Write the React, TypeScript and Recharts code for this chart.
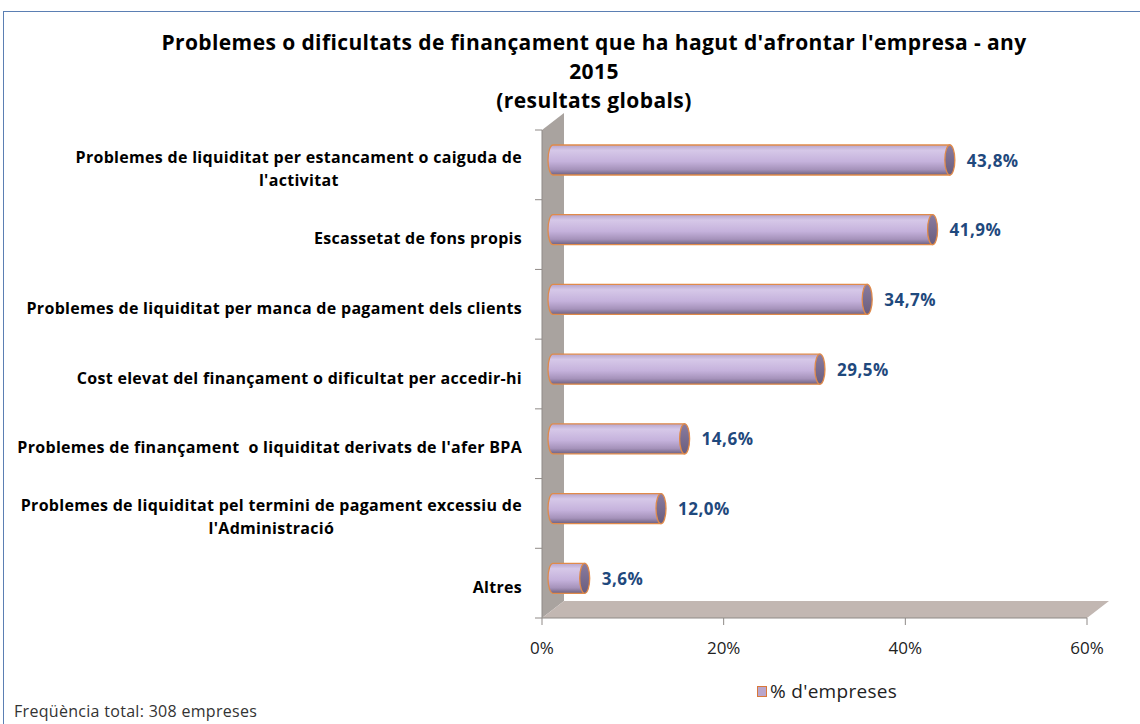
import { Bar, BarChart, LabelList, ReferenceArea, XAxis, YAxis } from "recharts";

const categories = [
  "Problemes de liquiditat per estancament o caiguda de\nl'activitat",
  "Escassetat de fons propis",
  "Problemes de liquiditat per manca de pagament dels clients",
  "Cost elevat del finançament o dificultat per accedir-hi",
  "Problemes de finançament  o liquiditat derivats de l'afer BPA",
  "Problemes de liquiditat pel termini de pagament excessiu de\nl'Administració",
  "Altres",
];
const shares = [43.8, 41.9, 34.7, 29.5, 14.6, 12.0, 3.6];
const xTicks = [0, 20, 40, 60];
const seriesName = "% d'empreses";

const data = categories.map((name, i) => ({ name, value: shares[i] }));

const FONT = "'Open Sans', 'Liberation Sans', sans-serif";
const DEPTH_X = 22;
const DEPTH_Y = 17;
const SHIFT_X = 11;
const SHIFT_Y = -5;

function Walls(props: any) {
  const { x, y, width, height } = props;
  const bottom = y + height;
  const n = categories.length;
  const ticks = Array.from({ length: n + 1 }, (_, i) => y + (i * height) / n);
  return (
    <g>
      <polygon
        points={`${x},${y} ${x + DEPTH_X},${y - DEPTH_Y} ${x + DEPTH_X},${bottom - DEPTH_Y} ${x},${bottom}`}
        fill="#a9a39f"
      />
      <polygon
        points={`${x},${bottom} ${x + DEPTH_X},${bottom - DEPTH_Y} ${x + width + DEPTH_X},${bottom - DEPTH_Y} ${x + width},${bottom}`}
        fill="#c2b7b2"
      />
      <line x1={x} y1={y} x2={x} y2={bottom} stroke="#8f8a87" strokeWidth={1} />
      {ticks.map((t, i) => (
        <line key={i} x1={x - 7} y1={t} x2={x} y2={t} stroke="#8f8a87" strokeWidth={1} />
      ))}
    </g>
  );
}

function Cylinder(props: any) {
  const { x, y, width, height } = props;
  const h = height;
  const top = y + SHIFT_Y;
  const rx = 5;
  const sx = x + SHIFT_X;
  const ex = x + width + SHIFT_X - 1;
  const ry = h / 2;
  return (
    <g>
      <path
        d={`M${sx},${top} A${rx},${ry} 0 0 0 ${sx},${top + h} L${ex},${top + h} L${ex},${top} Z`}
        fill="url(#cylBody)"
        stroke="#e08a4a"
        strokeWidth={1.3}
      />
      <ellipse cx={ex} cy={top + ry} rx={rx} ry={ry} fill="url(#cylCap)" stroke="#e08a4a" strokeWidth={1.3} />
    </g>
  );
}

function ValueLabel(props: any) {
  const { x, y, width, height, value } = props;
  return (
    <text
      x={x + width + SHIFT_X + 16}
      y={y + SHIFT_Y + height / 2}
      dominantBaseline="central"
      fill="#1f497d"
      fontFamily={FONT}
      fontWeight={700}
      fontSize={17}
      letterSpacing={0.5}
    >
      {value.toFixed(1).replace(".", ",")}%
    </text>
  );
}

function CategoryTick(props: any) {
  const { x, y, payload } = props;
  const lines = String(payload.value).split("\n");
  return (
    <foreignObject x={0} y={y - 40 + 4} width={x - 12} height={80}>
      <div
        style={{
          height: "80px",
          display: "flex",
          alignItems: "center",
          justifyContent: "flex-end",
          fontFamily: FONT,
          fontWeight: 700,
          fontSize: "16px",
          letterSpacing: "0.3px",
          lineHeight: "23px",
          color: "#000",
        }}
      >
        <div style={{ textAlign: "center", whiteSpace: "pre" }}>{lines.join("\n")}</div>
      </div>
    </foreignObject>
  );
}

export default function App() {
  return (
    <div style={{ position: "absolute", left: 0, top: 0, width: 1140, height: 724, background: "#fff", overflow: "hidden" }}>
      <div
        style={{
          position: "absolute",
          left: 3,
          top: 11,
          width: 1150,
          height: 730,
          border: "1px solid #5b7fb3",
          boxSizing: "border-box",
        }}
      />
      <div
        style={{
          position: "absolute",
          left: 0,
          top: 28,
          width: 1188,
          textAlign: "center",
          fontFamily: FONT,
          fontWeight: 700,
          fontSize: "21px",
          letterSpacing: "0.4px",
          lineHeight: "29px",
          color: "#000",
        }}
      >
        Problemes o dificultats de finançament que ha hagut d'afrontar l'empresa - any
        <br />
        2015
        <br />
        (resultats globals)
      </div>
      <BarChart
        width={1140}
        height={724}
        layout="vertical"
        data={data}
        margin={{ top: 130, right: 53, bottom: 76, left: 0 }}
        barSize={30}
      >
        <defs>
          <linearGradient id="cylBody" x1="0" y1="0" x2="0" y2="1">
            <stop offset="0%" stopColor="#b7a5cc" />
            <stop offset="18%" stopColor="#d6c8e8" />
            <stop offset="55%" stopColor="#c5b2dc" />
            <stop offset="82%" stopColor="#a592ba" />
            <stop offset="100%" stopColor="#6e6180" />
          </linearGradient>
          <linearGradient id="cylCap" x1="0" y1="0" x2="0" y2="1">
            <stop offset="0%" stopColor="#8a7ca0" />
            <stop offset="100%" stopColor="#6a5d7d" />
          </linearGradient>
        </defs>
        <ReferenceArea x1={0} x2={60} ifOverflow="visible" shape={(p: any) => <Walls {...p} />} />
        <XAxis
          type="number"
          domain={[0, 60]}
          ticks={xTicks}
          tickFormatter={(v: number) => `${v}%`}
          height={30}
          tickSize={7}
          axisLine={{ stroke: "#8f8a87" }}
          tickLine={{ stroke: "#8f8a87" }}
          tick={{ fill: "#222", fontSize: 17, fontFamily: FONT, dy: 15 }}
        />
        <YAxis
          type="category"
          dataKey="name"
          width={542}
          axisLine={false}
          tickLine={false}
          tick={(p: any) => <CategoryTick {...p} />}
          interval={0}
        />
        <Bar dataKey="value" name={seriesName} shape={(p: any) => <Cylinder {...p} />} isAnimationActive={false}>
          <LabelList dataKey="value" content={(p: any) => <ValueLabel {...p} />} />
        </Bar>
      </BarChart>
      <div
        style={{
          position: "absolute",
          left: 757,
          top: 678,
          display: "flex",
          alignItems: "center",
          fontFamily: FONT,
          fontSize: "19px",
          letterSpacing: "0.3px",
          color: "#222",
        }}
      >
        <span
          style={{
            display: "inline-block",
            width: 8,
            height: 9,
            background: "#b9a6cc",
            border: "1.5px solid #d9783a",
            marginRight: 3,
          }}
        />
        {seriesName}
      </div>
      <div
        style={{
          position: "absolute",
          left: 14,
          top: 701,
          fontFamily: FONT,
          fontSize: "16px",
          letterSpacing: "0.3px",
          lineHeight: "20px",
          color: "#333",
        }}
      >
        Freqüència total: 308 empreses
      </div>
    </div>
  );
}
